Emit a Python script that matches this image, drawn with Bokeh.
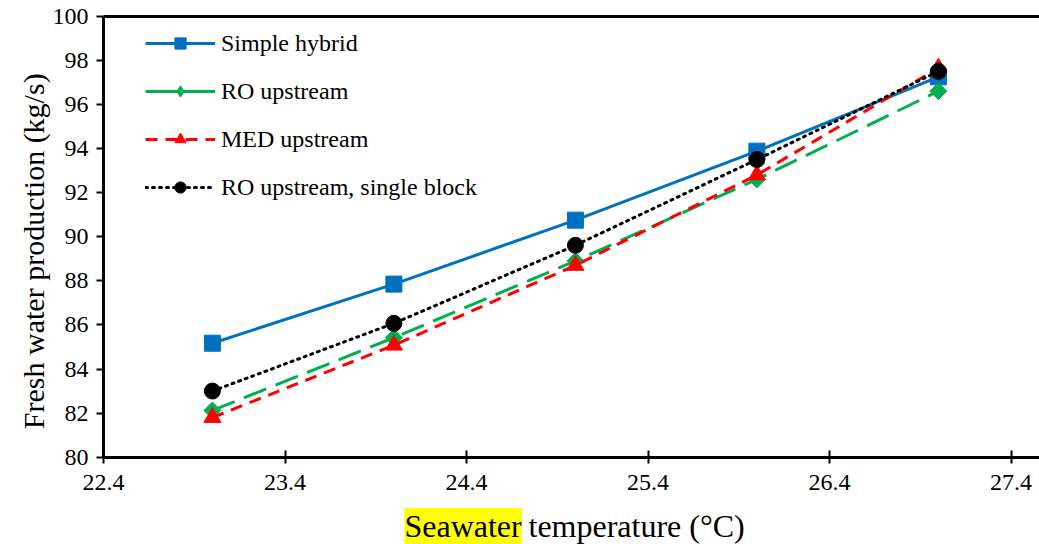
import math
from bokeh.plotting import figure
from bokeh.models import Range1d, FixedTicker, Label, Legend, LegendItem, LinearAxis
from bokeh.embed import file_html
from bokeh.resources import INLINE

temperature = [23, 24, 25, 26, 27]
simple_hybrid = [85.17, 87.85, 90.75, 93.88, 97.25]
ro_upstream = [82.12, 85.42, 88.9, 92.6, 96.6]
med_upstream = [81.8, 85.08, 88.7, 92.8, 97.65]
ro_single_block = [83.0, 86.07, 89.61, 93.5, 97.5]

x_ticks = [22.4, 23.4, 24.4, 25.4, 26.4, 27.4]
y_ticks = [80, 82, 84, 86, 88, 90, 92, 94, 96, 98, 100]

FONT = "Liberation Serif"
X_MIN, X_MAX = 22.4, 27.557
Y_MIN, Y_MAX = 80, 100

p = figure(width=1039, height=544, output_backend="svg", toolbar_location=None,
           x_range=Range1d(21.8325, 27.557), y_range=Range1d(76.041, 100.712),
           x_axis_location=None, y_axis_location=None,
           min_border=0)
p.outline_line_color = None
p.grid.visible = False
p.background_fill_color = "white"

xaxis = LinearAxis(fixed_location=Y_MIN, bounds=(X_MIN, X_MAX), ticker=FixedTicker(ticks=x_ticks))
yaxis = LinearAxis(fixed_location=X_MIN, bounds=(Y_MIN, Y_MAX), ticker=FixedTicker(ticks=y_ticks))
topaxis = LinearAxis(fixed_location=Y_MAX, bounds=(X_MIN, X_MAX), ticker=FixedTicker(ticks=[]))

for ax in (xaxis, yaxis, topaxis):
    ax.axis_line_width = 3
    ax.axis_line_color = "black"
    ax.major_tick_line_width = 2
    ax.major_tick_line_color = "black"
    ax.minor_tick_line_color = None
    ax.major_label_text_font = FONT
    ax.major_label_text_font_size = "24px"
    ax.major_label_text_color = "black"

xaxis.major_tick_in = 7
xaxis.major_tick_out = 6
xaxis.major_label_standoff = 12
yaxis.major_tick_in = 0
yaxis.major_tick_out = 7
yaxis.major_label_standoff = 8
topaxis.major_tick_in = 0
topaxis.major_tick_out = 0
topaxis.major_label_text_font_size = "0px"

p.add_layout(xaxis, "below")
p.add_layout(yaxis, "left")
p.add_layout(topaxis, "above")

# y-axis title
p.add_layout(Label(x=22.0143, y=89.34, text="Fresh water production (kg/s)", angle=math.pi / 2,
                   text_font=FONT, text_font_size="30px", text_align="center",
                   text_baseline="alphabetic", text_color="black"))

# x-axis title with highlighted word
p.add_layout(Label(x=24.058, y=76.88, text="Seawater", text_font=FONT, text_font_size="32px",
                   text_baseline="alphabetic", text_align="left", text_color="black",
                   background_fill_color="#FFFF00"))
p.add_layout(Label(x=24.6975, y=76.88, text="\u00a0temperature (°C)", text_font=FONT, text_font_size="32px",
                   text_baseline="alphabetic", text_align="left", text_color="black"))

blue, green, red = "#0070C0", "#00B050", "#FF0000"

l1 = p.line(temperature, simple_hybrid, line_color=blue, line_width=3)
m1 = p.scatter(temperature, simple_hybrid, marker="square", size=16, fill_color=blue, line_color=blue)

l2 = p.line(temperature, ro_upstream, line_color=green, line_width=3, line_dash="24 10")
m2 = p.scatter(temperature, ro_upstream, marker="square", angle=math.pi / 4, size=12,
               fill_color=green, line_color=green)

l3 = p.line(temperature, med_upstream, line_color=red, line_width=3, line_dash="12 8")
m3 = p.scatter(temperature, med_upstream, marker="triangle", size=17, fill_color=red, line_color=red)

l4 = p.line(temperature, ro_single_block, line_color="black", line_width=3, line_dash="2 5", line_cap="round")
m4 = p.scatter(temperature, ro_single_block, marker="circle", size=16, fill_color="black", line_color="black")

# legend-only glyphs for the RO upstream entry (drawn outside the visible ranges)
lg2 = p.line([0, 1], [0, 0], line_color=green, line_width=3)
lg2m = p.scatter([0], [0], marker="diamond", size=22, fill_color=green, line_color=green)

legend = Legend(items=[
    LegendItem(label="Simple hybrid", renderers=[l1, m1]),
    LegendItem(label="RO upstream", renderers=[lg2, lg2m]),
    LegendItem(label="MED upstream", renderers=[l3, m3]),
    LegendItem(label="RO upstream, single block", renderers=[l4, m4]),
], location=(145, 343))
legend.border_line_color = None
legend.background_fill_alpha = 0
legend.label_text_font = FONT
legend.label_text_font_size = "24px"
legend.label_text_color = "black"
legend.glyph_width = 70
legend.glyph_height = 28
legend.label_height = 28
legend.spacing = 20
legend.label_standoff = 6
legend.margin = 0
legend.padding = 0
p.add_layout(legend)

open("out.html", "w").write(file_html(p, INLINE))
